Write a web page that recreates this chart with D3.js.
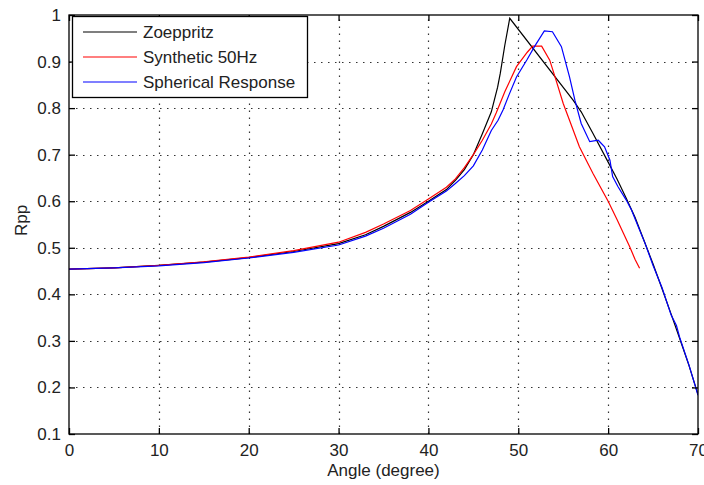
<!DOCTYPE html>
<html>
<head>
<meta charset="utf-8">
<script src="https://cdn.jsdelivr.net/npm/d3@7"></script>
<style>
  body { margin: 0; background: #fff; }
  text { font-family: "Liberation Sans", Arial, sans-serif; fill: #222; }
</style>
</head>
<body>
<script>
// Angle (degree) and Rpp values for each curve
var zoeAngle = [0, 5, 10, 15, 20, 25, 30, 33, 35, 38, 40, 42, 43, 44, 45, 46, 47, 47.7, 48, 48.5, 49.05,
                56.1, 57, 58.3, 60, 61, 62, 63, 64, 65, 66, 67, 68, 69, 70];
var zoeValue = [0.454, 0.457, 0.462, 0.469, 0.479, 0.492, 0.509, 0.528, 0.546, 0.576, 0.600, 0.625, 0.645, 0.668, 0.700, 0.745, 0.792, 0.845, 0.875, 0.935, 0.993,
                0.817, 0.792, 0.746, 0.684, 0.647, 0.607, 0.565, 0.515, 0.465, 0.412, 0.358, 0.303, 0.247, 0.185];

var synAngle = [0, 5, 10, 15, 20, 25, 30, 33, 35, 38, 40, 42, 43, 44, 45, 46, 47, 47.55, 48.5, 49.8, 51, 51.6, 52.6,
                53.5, 54.2, 55, 55.7, 56.8, 58.3, 60, 61, 61.7, 62.4, 63, 63.5];
var synValue = [0.454, 0.457, 0.462, 0.470, 0.480, 0.494, 0.512, 0.533, 0.551, 0.580, 0.605, 0.630, 0.648, 0.672, 0.700, 0.731, 0.766, 0.790, 0.835, 0.889, 0.920, 0.933, 0.933,
                0.903, 0.860, 0.810, 0.774, 0.717, 0.660, 0.600, 0.560, 0.531, 0.502, 0.475, 0.456];

var sphAngle = [0, 5, 10, 15, 20, 25, 30, 33, 35, 38, 40, 42, 43, 44, 45, 46, 47, 47.75, 48.3, 49, 49.8, 51, 51.8, 52.9,
                53.8, 54.8, 55.7, 56.3, 57, 57.95, 58.9, 59.6, 60.2, 60.5, 61.1, 62, 62.6, 63.5, 64.1, 65,
                66, 67, 67.6, 68, 69, 70];
var sphValue = [0.454, 0.457, 0.461, 0.468, 0.478, 0.490, 0.506, 0.525, 0.542, 0.572, 0.598, 0.622, 0.638, 0.655, 0.676, 0.710, 0.752, 0.774, 0.796, 0.830, 0.867, 0.905, 0.932, 0.966,
                0.964, 0.932, 0.867, 0.817, 0.767, 0.728, 0.731, 0.717, 0.688, 0.653, 0.631, 0.603, 0.581, 0.538, 0.510, 0.462,
                0.414, 0.356, 0.333, 0.305, 0.248, 0.183];

var seriesNames = ["Zoeppritz", "Synthetic 50Hz", "Spherical Response"];
var seriesColors = ["#000000", "#ff0000", "#0000ff"];
var xTicks = [0, 10, 20, 30, 40, 50, 60, 70];
var yTicks = [0.1, 0.2, 0.3, 0.4, 0.5, 0.6, 0.7, 0.8, 0.9, 1];

var widthSvg = 704;
var heightSvg = 485;
var plotLeft = 69, plotRight = 698, plotTop = 15, plotBottom = 434;
var tickLen = 6;
var fontSize = "17px";

var svg = d3.select("body").append("svg")
  .attr("width", widthSvg)
  .attr("height", heightSvg);

var x = d3.scaleLinear().domain([0, 70]).range([plotLeft, plotRight]);
var y = d3.scaleLinear().domain([0.1, 1]).range([plotBottom, plotTop]);

// dotted grid
var grid = svg.append("g").attr("stroke", "#333").attr("stroke-width", 1.2)
  .attr("stroke-dasharray", "1.5,5.5");
grid.selectAll(".gx").data(xTicks.slice(1, -1)).enter().append("line")
  .attr("x1", function(d) { return Math.round(x(d)) + 0.5; })
  .attr("x2", function(d) { return Math.round(x(d)) + 0.5; })
  .attr("y1", plotBottom).attr("y2", plotTop);
grid.selectAll(".gy").data(yTicks.slice(1, -1)).enter().append("line")
  .attr("y1", function(d) { return Math.round(y(d)) + 0.5; })
  .attr("y2", function(d) { return Math.round(y(d)) + 0.5; })
  .attr("x1", plotLeft).attr("x2", plotRight);

// curves
svg.append("clipPath").attr("id", "clip").append("rect")
  .attr("x", plotLeft).attr("y", plotTop)
  .attr("width", plotRight - plotLeft).attr("height", plotBottom - plotTop);

var allSeries = [
  zoeAngle.map(function(a, i) { return [a, zoeValue[i]]; }),
  synAngle.map(function(a, i) { return [a, synValue[i]]; }),
  sphAngle.map(function(a, i) { return [a, sphValue[i]]; })
];

var line = d3.line()
  .x(function(d) { return x(d[0]); })
  .y(function(d) { return y(d[1]); });

svg.append("g").attr("clip-path", "url(#clip)")
  .selectAll("path").data(allSeries).enter().append("path")
  .attr("d", line)
  .attr("fill", "none")
  .attr("stroke", function(d, i) { return seriesColors[i]; })
  .attr("stroke-width", 1.2);

// axes with inward ticks, MATLAB style box
var xAxisB = d3.axisBottom(x).tickValues(xTicks).tickSizeInner(-tickLen).tickSizeOuter(0)
  .tickPadding(tickLen + 4).tickFormat(d3.format("d"));
var xAxisT = d3.axisTop(x).tickValues(xTicks).tickSizeInner(-tickLen).tickSizeOuter(0).tickFormat("");
var yAxisL = d3.axisLeft(y).tickValues(yTicks).tickSizeInner(-tickLen).tickSizeOuter(0)
  .tickPadding(tickLen + 2)
  .tickFormat(function(d) { return d === 1 ? "1" : d3.format(".1f")(d); });
var yAxisR = d3.axisRight(y).tickValues(yTicks).tickSizeInner(-tickLen).tickSizeOuter(0).tickFormat("");

function styleAxis(g) {
  g.select(".domain").remove();
  g.selectAll(".tick line").attr("stroke", "#000").attr("stroke-width", 1.3);
  g.selectAll(".tick text").attr("font-size", fontSize)
    .attr("font-family", "'Liberation Sans', Arial, sans-serif").attr("fill", "#222");
}

svg.append("g").attr("transform", "translate(0," + plotBottom + ")").call(xAxisB).call(styleAxis);
svg.append("g").attr("transform", "translate(0," + plotTop + ")").call(xAxisT).call(styleAxis);
svg.append("g").attr("transform", "translate(" + plotLeft + ",0)").call(yAxisL).call(styleAxis);
svg.append("g").attr("transform", "translate(" + plotRight + ",0)").call(yAxisR).call(styleAxis);

svg.append("rect")
  .attr("x", plotLeft).attr("y", plotTop)
  .attr("width", plotRight - plotLeft).attr("height", plotBottom - plotTop)
  .attr("fill", "none").attr("stroke", "#000").attr("stroke-width", 1.3);

// axis labels
svg.append("text")
  .attr("x", (plotLeft + plotRight) / 2).attr("y", 476)
  .attr("text-anchor", "middle").attr("font-size", fontSize)
  .text("Angle (degree)");

svg.append("text")
  .attr("transform", "translate(27," + ((plotTop + plotBottom) / 2 - 4) + ") rotate(-90)")
  .attr("text-anchor", "middle").attr("font-size", fontSize)
  .text("Rpp");

// legend
var legend = svg.append("g");
legend.append("rect")
  .attr("x", 72.5).attr("y", 16.5).attr("width", 235).attr("height", 81)
  .attr("fill", "#fff").attr("stroke", "#000").attr("stroke-width", 1.3);
var entries = legend.selectAll(".entry").data(seriesNames).enter().append("g")
  .attr("transform", function(d, i) { return "translate(0," + (32 + i * 25) + ")"; });
entries.append("line")
  .attr("x1", 83).attr("x2", 137).attr("y1", 0).attr("y2", 0)
  .attr("stroke", function(d, i) { return seriesColors[i]; })
  .attr("stroke-width", 1.2);
entries.append("text")
  .attr("x", 143).attr("y", 6)
  .attr("font-size", fontSize)
  .text(function(d) { return d; });
</script>
</body>
</html>
